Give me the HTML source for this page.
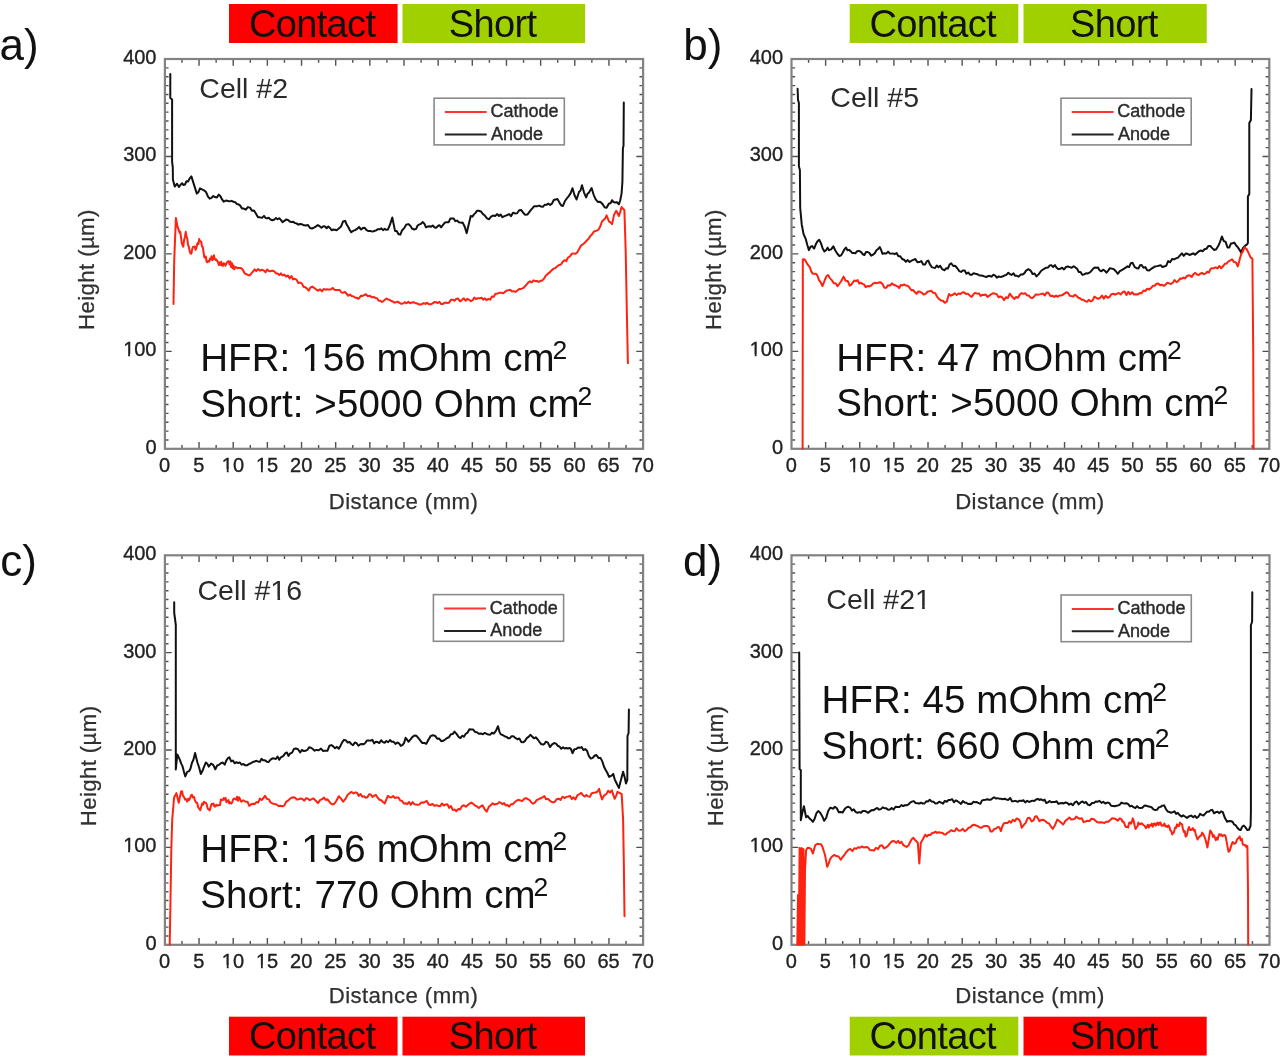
<!DOCTYPE html><html><head><meta charset="utf-8"><title>Cell profiles</title><style>
html,body{margin:0;padding:0;background:#fff;width:1280px;height:1061px;overflow:hidden}
svg{display:block;font-family:"Liberation Sans",sans-serif;filter:blur(0.45px)}
.tl{font-size:20px;fill:#222;stroke:#222;stroke-width:0.35px}
.at{font-size:22.2px;fill:#303030;stroke:#303030;stroke-width:0.25px;letter-spacing:0.4px}
.hf{font-size:38.5px;fill:#111;letter-spacing:0.1px}
.br{font-size:38px;fill:#111;letter-spacing:-0.65px}
.lg{font-size:18px;fill:#2a2a2a;stroke:#2a2a2a;stroke-width:0.4px}
.cl{font-size:28.5px;fill:#2a2a2a}
.pl{font-size:44px;fill:#111}
</style></head><body>
<svg width="1280" height="1061" viewBox="0 0 1280 1061">
<rect width="1280" height="1061" fill="#fff"/>
<rect x="229" y="4" width="168.6" height="39" fill="#ff0000"/>
<text x="312.1" y="37.3" text-anchor="middle" class="br">Contact</text>
<rect x="402.5" y="4" width="182.6" height="39" fill="#a0d000"/>
<text x="492.6" y="37.3" text-anchor="middle" class="br">Short</text>
<rect x="849.7" y="4" width="168.6" height="39" fill="#a0d000"/>
<text x="932.8" y="37.3" text-anchor="middle" class="br">Contact</text>
<rect x="1023.5" y="4" width="183.2" height="39" fill="#a0d000"/>
<text x="1113.9" y="37.3" text-anchor="middle" class="br">Short</text>
<rect x="229" y="1016.7" width="168.6" height="38.8" fill="#ff0000"/>
<text x="312.1" y="1049.2" text-anchor="middle" class="br">Contact</text>
<rect x="402.5" y="1016.7" width="182.6" height="38.8" fill="#ff0000"/>
<text x="492.6" y="1049.2" text-anchor="middle" class="br">Short</text>
<rect x="849.7" y="1016.7" width="168.6" height="38.8" fill="#a0d000"/>
<text x="932.8" y="1049.2" text-anchor="middle" class="br">Contact</text>
<rect x="1023.5" y="1016.7" width="183.2" height="38.8" fill="#ff0000"/>
<text x="1113.9" y="1049.2" text-anchor="middle" class="br">Short</text>
<text x="-0.5" y="60" class="pl">a)</text>
<text x="683.3" y="60" class="pl">b)</text>
<text x="0.3" y="576.2" class="pl">c)</text>
<text x="683" y="576" class="pl">d)</text>
<path d="M181.98 448.8v-3.8M181.98 59v3.8M199.06 448.8v-6.8M199.06 59v6.8M216.14 448.8v-3.8M216.14 59v3.8M233.21 448.8v-6.8M233.21 59v6.8M250.29 448.8v-3.8M250.29 59v3.8M267.37 448.8v-6.8M267.37 59v6.8M284.45 448.8v-3.8M284.45 59v3.8M301.53 448.8v-6.8M301.53 59v6.8M318.61 448.8v-3.8M318.61 59v3.8M335.69 448.8v-6.8M335.69 59v6.8M352.76 448.8v-3.8M352.76 59v3.8M369.84 448.8v-6.8M369.84 59v6.8M386.92 448.8v-3.8M386.92 59v3.8M404 448.8v-6.8M404 59v6.8M421.08 448.8v-3.8M421.08 59v3.8M438.16 448.8v-6.8M438.16 59v6.8M455.24 448.8v-3.8M455.24 59v3.8M472.31 448.8v-6.8M472.31 59v6.8M489.39 448.8v-3.8M489.39 59v3.8M506.47 448.8v-6.8M506.47 59v6.8M523.55 448.8v-3.8M523.55 59v3.8M540.63 448.8v-6.8M540.63 59v6.8M557.71 448.8v-3.8M557.71 59v3.8M574.79 448.8v-6.8M574.79 59v6.8M591.86 448.8v-3.8M591.86 59v3.8M608.94 448.8v-6.8M608.94 59v6.8M626.02 448.8v-3.8M626.02 59v3.8M164.9 439.94h3.6M643.1 439.94h-3.6M164.9 431.08h3.6M643.1 431.08h-3.6M164.9 422.22h3.6M643.1 422.22h-3.6M164.9 413.36h3.6M643.1 413.36h-3.6M164.9 404.5h3.6M643.1 404.5h-3.6M164.9 395.65h3.6M643.1 395.65h-3.6M164.9 386.79h3.6M643.1 386.79h-3.6M164.9 377.93h3.6M643.1 377.93h-3.6M164.9 369.07h3.6M643.1 369.07h-3.6M164.9 360.21h3.6M643.1 360.21h-3.6M164.9 351.35h6.8M643.1 351.35h-6.8M164.9 342.49h3.6M643.1 342.49h-3.6M164.9 333.63h3.6M643.1 333.63h-3.6M164.9 324.77h3.6M643.1 324.77h-3.6M164.9 315.91h3.6M643.1 315.91h-3.6M164.9 307.05h3.6M643.1 307.05h-3.6M164.9 298.2h3.6M643.1 298.2h-3.6M164.9 289.34h3.6M643.1 289.34h-3.6M164.9 280.48h3.6M643.1 280.48h-3.6M164.9 271.62h3.6M643.1 271.62h-3.6M164.9 262.76h3.6M643.1 262.76h-3.6M164.9 253.9h6.8M643.1 253.9h-6.8M164.9 245.04h3.6M643.1 245.04h-3.6M164.9 236.18h3.6M643.1 236.18h-3.6M164.9 227.32h3.6M643.1 227.32h-3.6M164.9 218.46h3.6M643.1 218.46h-3.6M164.9 209.6h3.6M643.1 209.6h-3.6M164.9 200.75h3.6M643.1 200.75h-3.6M164.9 191.89h3.6M643.1 191.89h-3.6M164.9 183.03h3.6M643.1 183.03h-3.6M164.9 174.17h3.6M643.1 174.17h-3.6M164.9 165.31h3.6M643.1 165.31h-3.6M164.9 156.45h6.8M643.1 156.45h-6.8M164.9 147.59h3.6M643.1 147.59h-3.6M164.9 138.73h3.6M643.1 138.73h-3.6M164.9 129.87h3.6M643.1 129.87h-3.6M164.9 121.01h3.6M643.1 121.01h-3.6M164.9 112.15h3.6M643.1 112.15h-3.6M164.9 103.3h3.6M643.1 103.3h-3.6M164.9 94.44h3.6M643.1 94.44h-3.6M164.9 85.58h3.6M643.1 85.58h-3.6M164.9 76.72h3.6M643.1 76.72h-3.6M164.9 67.86h3.6M643.1 67.86h-3.6" stroke="#505050" stroke-width="1.4" fill="none"/>
<rect x="164.9" y="59" width="478.2" height="389.8" fill="none" stroke="#828282" stroke-width="2.2"/>
<text x="156.5" y="453.8" text-anchor="end" class="tl">0</text>
<text x="156.5" y="356.35" text-anchor="end" class="tl">100</text>
<text x="156.5" y="258.9" text-anchor="end" class="tl">200</text>
<text x="156.5" y="161.45" text-anchor="end" class="tl">300</text>
<text x="156.5" y="64" text-anchor="end" class="tl">400</text>
<text x="164.6" y="471.6" text-anchor="middle" class="tl">0</text>
<text x="198.76" y="471.6" text-anchor="middle" class="tl">5</text>
<text x="232.91" y="471.6" text-anchor="middle" class="tl">10</text>
<text x="267.07" y="471.6" text-anchor="middle" class="tl">15</text>
<text x="301.23" y="471.6" text-anchor="middle" class="tl">20</text>
<text x="335.39" y="471.6" text-anchor="middle" class="tl">25</text>
<text x="369.54" y="471.6" text-anchor="middle" class="tl">30</text>
<text x="403.7" y="471.6" text-anchor="middle" class="tl">35</text>
<text x="437.86" y="471.6" text-anchor="middle" class="tl">40</text>
<text x="472.01" y="471.6" text-anchor="middle" class="tl">45</text>
<text x="506.17" y="471.6" text-anchor="middle" class="tl">50</text>
<text x="540.33" y="471.6" text-anchor="middle" class="tl">55</text>
<text x="574.49" y="471.6" text-anchor="middle" class="tl">60</text>
<text x="608.64" y="471.6" text-anchor="middle" class="tl">65</text>
<text x="642.8" y="471.6" text-anchor="middle" class="tl">70</text>
<text x="403.5" y="508.6" text-anchor="middle" class="at">Distance (mm)</text>
<text transform="translate(93.5 269.6) rotate(-90)" text-anchor="middle" class="at">Height (µm)</text>
<path d="M808.56 448.8v-3.8M808.56 59v3.8M825.63 448.8v-6.8M825.63 59v6.8M842.69 448.8v-3.8M842.69 59v3.8M859.76 448.8v-6.8M859.76 59v6.8M876.82 448.8v-3.8M876.82 59v3.8M893.89 448.8v-6.8M893.89 59v6.8M910.95 448.8v-3.8M910.95 59v3.8M928.01 448.8v-6.8M928.01 59v6.8M945.08 448.8v-3.8M945.08 59v3.8M962.14 448.8v-6.8M962.14 59v6.8M979.21 448.8v-3.8M979.21 59v3.8M996.27 448.8v-6.8M996.27 59v6.8M1013.34 448.8v-3.8M1013.34 59v3.8M1030.4 448.8v-6.8M1030.4 59v6.8M1047.46 448.8v-3.8M1047.46 59v3.8M1064.53 448.8v-6.8M1064.53 59v6.8M1081.59 448.8v-3.8M1081.59 59v3.8M1098.66 448.8v-6.8M1098.66 59v6.8M1115.72 448.8v-3.8M1115.72 59v3.8M1132.79 448.8v-6.8M1132.79 59v6.8M1149.85 448.8v-3.8M1149.85 59v3.8M1166.91 448.8v-6.8M1166.91 59v6.8M1183.98 448.8v-3.8M1183.98 59v3.8M1201.04 448.8v-6.8M1201.04 59v6.8M1218.11 448.8v-3.8M1218.11 59v3.8M1235.17 448.8v-6.8M1235.17 59v6.8M1252.24 448.8v-3.8M1252.24 59v3.8M791.5 439.94h3.6M1269.3 439.94h-3.6M791.5 431.08h3.6M1269.3 431.08h-3.6M791.5 422.22h3.6M1269.3 422.22h-3.6M791.5 413.36h3.6M1269.3 413.36h-3.6M791.5 404.5h3.6M1269.3 404.5h-3.6M791.5 395.65h3.6M1269.3 395.65h-3.6M791.5 386.79h3.6M1269.3 386.79h-3.6M791.5 377.93h3.6M1269.3 377.93h-3.6M791.5 369.07h3.6M1269.3 369.07h-3.6M791.5 360.21h3.6M1269.3 360.21h-3.6M791.5 351.35h6.8M1269.3 351.35h-6.8M791.5 342.49h3.6M1269.3 342.49h-3.6M791.5 333.63h3.6M1269.3 333.63h-3.6M791.5 324.77h3.6M1269.3 324.77h-3.6M791.5 315.91h3.6M1269.3 315.91h-3.6M791.5 307.05h3.6M1269.3 307.05h-3.6M791.5 298.2h3.6M1269.3 298.2h-3.6M791.5 289.34h3.6M1269.3 289.34h-3.6M791.5 280.48h3.6M1269.3 280.48h-3.6M791.5 271.62h3.6M1269.3 271.62h-3.6M791.5 262.76h3.6M1269.3 262.76h-3.6M791.5 253.9h6.8M1269.3 253.9h-6.8M791.5 245.04h3.6M1269.3 245.04h-3.6M791.5 236.18h3.6M1269.3 236.18h-3.6M791.5 227.32h3.6M1269.3 227.32h-3.6M791.5 218.46h3.6M1269.3 218.46h-3.6M791.5 209.6h3.6M1269.3 209.6h-3.6M791.5 200.75h3.6M1269.3 200.75h-3.6M791.5 191.89h3.6M1269.3 191.89h-3.6M791.5 183.03h3.6M1269.3 183.03h-3.6M791.5 174.17h3.6M1269.3 174.17h-3.6M791.5 165.31h3.6M1269.3 165.31h-3.6M791.5 156.45h6.8M1269.3 156.45h-6.8M791.5 147.59h3.6M1269.3 147.59h-3.6M791.5 138.73h3.6M1269.3 138.73h-3.6M791.5 129.87h3.6M1269.3 129.87h-3.6M791.5 121.01h3.6M1269.3 121.01h-3.6M791.5 112.15h3.6M1269.3 112.15h-3.6M791.5 103.3h3.6M1269.3 103.3h-3.6M791.5 94.44h3.6M1269.3 94.44h-3.6M791.5 85.58h3.6M1269.3 85.58h-3.6M791.5 76.72h3.6M1269.3 76.72h-3.6M791.5 67.86h3.6M1269.3 67.86h-3.6" stroke="#505050" stroke-width="1.4" fill="none"/>
<rect x="791.5" y="59" width="477.8" height="389.8" fill="none" stroke="#828282" stroke-width="2.2"/>
<text x="783.1" y="453.8" text-anchor="end" class="tl">0</text>
<text x="783.1" y="356.35" text-anchor="end" class="tl">100</text>
<text x="783.1" y="258.9" text-anchor="end" class="tl">200</text>
<text x="783.1" y="161.45" text-anchor="end" class="tl">300</text>
<text x="783.1" y="64" text-anchor="end" class="tl">400</text>
<text x="791.2" y="471.6" text-anchor="middle" class="tl">0</text>
<text x="825.33" y="471.6" text-anchor="middle" class="tl">5</text>
<text x="859.46" y="471.6" text-anchor="middle" class="tl">10</text>
<text x="893.59" y="471.6" text-anchor="middle" class="tl">15</text>
<text x="927.71" y="471.6" text-anchor="middle" class="tl">20</text>
<text x="961.84" y="471.6" text-anchor="middle" class="tl">25</text>
<text x="995.97" y="471.6" text-anchor="middle" class="tl">30</text>
<text x="1030.1" y="471.6" text-anchor="middle" class="tl">35</text>
<text x="1064.23" y="471.6" text-anchor="middle" class="tl">40</text>
<text x="1098.36" y="471.6" text-anchor="middle" class="tl">45</text>
<text x="1132.49" y="471.6" text-anchor="middle" class="tl">50</text>
<text x="1166.61" y="471.6" text-anchor="middle" class="tl">55</text>
<text x="1200.74" y="471.6" text-anchor="middle" class="tl">60</text>
<text x="1234.87" y="471.6" text-anchor="middle" class="tl">65</text>
<text x="1269" y="471.6" text-anchor="middle" class="tl">70</text>
<text x="1029.9" y="508.6" text-anchor="middle" class="at">Distance (mm)</text>
<text transform="translate(720.9 269.6) rotate(-90)" text-anchor="middle" class="at">Height (µm)</text>
<path d="M181.98 944.8v-3.8M181.98 555.3v3.8M199.06 944.8v-6.8M199.06 555.3v6.8M216.14 944.8v-3.8M216.14 555.3v3.8M233.21 944.8v-6.8M233.21 555.3v6.8M250.29 944.8v-3.8M250.29 555.3v3.8M267.37 944.8v-6.8M267.37 555.3v6.8M284.45 944.8v-3.8M284.45 555.3v3.8M301.53 944.8v-6.8M301.53 555.3v6.8M318.61 944.8v-3.8M318.61 555.3v3.8M335.69 944.8v-6.8M335.69 555.3v6.8M352.76 944.8v-3.8M352.76 555.3v3.8M369.84 944.8v-6.8M369.84 555.3v6.8M386.92 944.8v-3.8M386.92 555.3v3.8M404 944.8v-6.8M404 555.3v6.8M421.08 944.8v-3.8M421.08 555.3v3.8M438.16 944.8v-6.8M438.16 555.3v6.8M455.24 944.8v-3.8M455.24 555.3v3.8M472.31 944.8v-6.8M472.31 555.3v6.8M489.39 944.8v-3.8M489.39 555.3v3.8M506.47 944.8v-6.8M506.47 555.3v6.8M523.55 944.8v-3.8M523.55 555.3v3.8M540.63 944.8v-6.8M540.63 555.3v6.8M557.71 944.8v-3.8M557.71 555.3v3.8M574.79 944.8v-6.8M574.79 555.3v6.8M591.86 944.8v-3.8M591.86 555.3v3.8M608.94 944.8v-6.8M608.94 555.3v6.8M626.02 944.8v-3.8M626.02 555.3v3.8M164.9 935.95h3.6M643.1 935.95h-3.6M164.9 927.1h3.6M643.1 927.1h-3.6M164.9 918.24h3.6M643.1 918.24h-3.6M164.9 909.39h3.6M643.1 909.39h-3.6M164.9 900.54h3.6M643.1 900.54h-3.6M164.9 891.69h3.6M643.1 891.69h-3.6M164.9 882.83h3.6M643.1 882.83h-3.6M164.9 873.98h3.6M643.1 873.98h-3.6M164.9 865.13h3.6M643.1 865.13h-3.6M164.9 856.28h3.6M643.1 856.28h-3.6M164.9 847.42h6.8M643.1 847.42h-6.8M164.9 838.57h3.6M643.1 838.57h-3.6M164.9 829.72h3.6M643.1 829.72h-3.6M164.9 820.87h3.6M643.1 820.87h-3.6M164.9 812.02h3.6M643.1 812.02h-3.6M164.9 803.16h3.6M643.1 803.16h-3.6M164.9 794.31h3.6M643.1 794.31h-3.6M164.9 785.46h3.6M643.1 785.46h-3.6M164.9 776.61h3.6M643.1 776.61h-3.6M164.9 767.75h3.6M643.1 767.75h-3.6M164.9 758.9h3.6M643.1 758.9h-3.6M164.9 750.05h6.8M643.1 750.05h-6.8M164.9 741.2h3.6M643.1 741.2h-3.6M164.9 732.35h3.6M643.1 732.35h-3.6M164.9 723.49h3.6M643.1 723.49h-3.6M164.9 714.64h3.6M643.1 714.64h-3.6M164.9 705.79h3.6M643.1 705.79h-3.6M164.9 696.94h3.6M643.1 696.94h-3.6M164.9 688.08h3.6M643.1 688.08h-3.6M164.9 679.23h3.6M643.1 679.23h-3.6M164.9 670.38h3.6M643.1 670.38h-3.6M164.9 661.53h3.6M643.1 661.53h-3.6M164.9 652.67h6.8M643.1 652.67h-6.8M164.9 643.82h3.6M643.1 643.82h-3.6M164.9 634.97h3.6M643.1 634.97h-3.6M164.9 626.12h3.6M643.1 626.12h-3.6M164.9 617.27h3.6M643.1 617.27h-3.6M164.9 608.41h3.6M643.1 608.41h-3.6M164.9 599.56h3.6M643.1 599.56h-3.6M164.9 590.71h3.6M643.1 590.71h-3.6M164.9 581.86h3.6M643.1 581.86h-3.6M164.9 573h3.6M643.1 573h-3.6M164.9 564.15h3.6M643.1 564.15h-3.6" stroke="#505050" stroke-width="1.4" fill="none"/>
<rect x="164.9" y="555.3" width="478.2" height="389.5" fill="none" stroke="#828282" stroke-width="2.2"/>
<text x="156.5" y="949.8" text-anchor="end" class="tl">0</text>
<text x="156.5" y="852.42" text-anchor="end" class="tl">100</text>
<text x="156.5" y="755.05" text-anchor="end" class="tl">200</text>
<text x="156.5" y="657.67" text-anchor="end" class="tl">300</text>
<text x="156.5" y="560.3" text-anchor="end" class="tl">400</text>
<text x="164.6" y="967.6" text-anchor="middle" class="tl">0</text>
<text x="198.76" y="967.6" text-anchor="middle" class="tl">5</text>
<text x="232.91" y="967.6" text-anchor="middle" class="tl">10</text>
<text x="267.07" y="967.6" text-anchor="middle" class="tl">15</text>
<text x="301.23" y="967.6" text-anchor="middle" class="tl">20</text>
<text x="335.39" y="967.6" text-anchor="middle" class="tl">25</text>
<text x="369.54" y="967.6" text-anchor="middle" class="tl">30</text>
<text x="403.7" y="967.6" text-anchor="middle" class="tl">35</text>
<text x="437.86" y="967.6" text-anchor="middle" class="tl">40</text>
<text x="472.01" y="967.6" text-anchor="middle" class="tl">45</text>
<text x="506.17" y="967.6" text-anchor="middle" class="tl">50</text>
<text x="540.33" y="967.6" text-anchor="middle" class="tl">55</text>
<text x="574.49" y="967.6" text-anchor="middle" class="tl">60</text>
<text x="608.64" y="967.6" text-anchor="middle" class="tl">65</text>
<text x="642.8" y="967.6" text-anchor="middle" class="tl">70</text>
<text x="403.5" y="1003.3" text-anchor="middle" class="at">Distance (mm)</text>
<text transform="translate(95.9 765.9) rotate(-90)" text-anchor="middle" class="at">Height (µm)</text>
<path d="M808.57 944.8v-3.8M808.57 555.3v3.8M825.64 944.8v-6.8M825.64 555.3v6.8M842.71 944.8v-3.8M842.71 555.3v3.8M859.79 944.8v-6.8M859.79 555.3v6.8M876.86 944.8v-3.8M876.86 555.3v3.8M893.93 944.8v-6.8M893.93 555.3v6.8M911 944.8v-3.8M911 555.3v3.8M928.07 944.8v-6.8M928.07 555.3v6.8M945.14 944.8v-3.8M945.14 555.3v3.8M962.21 944.8v-6.8M962.21 555.3v6.8M979.29 944.8v-3.8M979.29 555.3v3.8M996.36 944.8v-6.8M996.36 555.3v6.8M1013.43 944.8v-3.8M1013.43 555.3v3.8M1030.5 944.8v-6.8M1030.5 555.3v6.8M1047.57 944.8v-3.8M1047.57 555.3v3.8M1064.64 944.8v-6.8M1064.64 555.3v6.8M1081.71 944.8v-3.8M1081.71 555.3v3.8M1098.79 944.8v-6.8M1098.79 555.3v6.8M1115.86 944.8v-3.8M1115.86 555.3v3.8M1132.93 944.8v-6.8M1132.93 555.3v6.8M1150 944.8v-3.8M1150 555.3v3.8M1167.07 944.8v-6.8M1167.07 555.3v6.8M1184.14 944.8v-3.8M1184.14 555.3v3.8M1201.21 944.8v-6.8M1201.21 555.3v6.8M1218.29 944.8v-3.8M1218.29 555.3v3.8M1235.36 944.8v-6.8M1235.36 555.3v6.8M1252.43 944.8v-3.8M1252.43 555.3v3.8M791.5 935.95h3.6M1269.5 935.95h-3.6M791.5 927.1h3.6M1269.5 927.1h-3.6M791.5 918.24h3.6M1269.5 918.24h-3.6M791.5 909.39h3.6M1269.5 909.39h-3.6M791.5 900.54h3.6M1269.5 900.54h-3.6M791.5 891.69h3.6M1269.5 891.69h-3.6M791.5 882.83h3.6M1269.5 882.83h-3.6M791.5 873.98h3.6M1269.5 873.98h-3.6M791.5 865.13h3.6M1269.5 865.13h-3.6M791.5 856.28h3.6M1269.5 856.28h-3.6M791.5 847.42h6.8M1269.5 847.42h-6.8M791.5 838.57h3.6M1269.5 838.57h-3.6M791.5 829.72h3.6M1269.5 829.72h-3.6M791.5 820.87h3.6M1269.5 820.87h-3.6M791.5 812.02h3.6M1269.5 812.02h-3.6M791.5 803.16h3.6M1269.5 803.16h-3.6M791.5 794.31h3.6M1269.5 794.31h-3.6M791.5 785.46h3.6M1269.5 785.46h-3.6M791.5 776.61h3.6M1269.5 776.61h-3.6M791.5 767.75h3.6M1269.5 767.75h-3.6M791.5 758.9h3.6M1269.5 758.9h-3.6M791.5 750.05h6.8M1269.5 750.05h-6.8M791.5 741.2h3.6M1269.5 741.2h-3.6M791.5 732.35h3.6M1269.5 732.35h-3.6M791.5 723.49h3.6M1269.5 723.49h-3.6M791.5 714.64h3.6M1269.5 714.64h-3.6M791.5 705.79h3.6M1269.5 705.79h-3.6M791.5 696.94h3.6M1269.5 696.94h-3.6M791.5 688.08h3.6M1269.5 688.08h-3.6M791.5 679.23h3.6M1269.5 679.23h-3.6M791.5 670.38h3.6M1269.5 670.38h-3.6M791.5 661.53h3.6M1269.5 661.53h-3.6M791.5 652.67h6.8M1269.5 652.67h-6.8M791.5 643.82h3.6M1269.5 643.82h-3.6M791.5 634.97h3.6M1269.5 634.97h-3.6M791.5 626.12h3.6M1269.5 626.12h-3.6M791.5 617.27h3.6M1269.5 617.27h-3.6M791.5 608.41h3.6M1269.5 608.41h-3.6M791.5 599.56h3.6M1269.5 599.56h-3.6M791.5 590.71h3.6M1269.5 590.71h-3.6M791.5 581.86h3.6M1269.5 581.86h-3.6M791.5 573h3.6M1269.5 573h-3.6M791.5 564.15h3.6M1269.5 564.15h-3.6" stroke="#505050" stroke-width="1.4" fill="none"/>
<rect x="791.5" y="555.3" width="478" height="389.5" fill="none" stroke="#828282" stroke-width="2.2"/>
<text x="783.1" y="949.8" text-anchor="end" class="tl">0</text>
<text x="783.1" y="852.42" text-anchor="end" class="tl">100</text>
<text x="783.1" y="755.05" text-anchor="end" class="tl">200</text>
<text x="783.1" y="657.67" text-anchor="end" class="tl">300</text>
<text x="783.1" y="560.3" text-anchor="end" class="tl">400</text>
<text x="791.2" y="967.6" text-anchor="middle" class="tl">0</text>
<text x="825.34" y="967.6" text-anchor="middle" class="tl">5</text>
<text x="859.49" y="967.6" text-anchor="middle" class="tl">10</text>
<text x="893.63" y="967.6" text-anchor="middle" class="tl">15</text>
<text x="927.77" y="967.6" text-anchor="middle" class="tl">20</text>
<text x="961.91" y="967.6" text-anchor="middle" class="tl">25</text>
<text x="996.06" y="967.6" text-anchor="middle" class="tl">30</text>
<text x="1030.2" y="967.6" text-anchor="middle" class="tl">35</text>
<text x="1064.34" y="967.6" text-anchor="middle" class="tl">40</text>
<text x="1098.49" y="967.6" text-anchor="middle" class="tl">45</text>
<text x="1132.63" y="967.6" text-anchor="middle" class="tl">50</text>
<text x="1166.77" y="967.6" text-anchor="middle" class="tl">55</text>
<text x="1200.91" y="967.6" text-anchor="middle" class="tl">60</text>
<text x="1235.06" y="967.6" text-anchor="middle" class="tl">65</text>
<text x="1269.2" y="967.6" text-anchor="middle" class="tl">70</text>
<text x="1030" y="1003.3" text-anchor="middle" class="at">Distance (mm)</text>
<text transform="translate(722.9 765.9) rotate(-90)" text-anchor="middle" class="at">Height (µm)</text>
<text x="199.3" y="98" class="cl">Cell #2</text>
<text x="830.3" y="107.3" class="cl">Cell #5</text>
<text x="197.5" y="600" class="cl">Cell #16</text>
<text x="826.3" y="609" class="cl">Cell #21</text>
<rect x="434.1" y="98.2" width="130.2" height="46.7" fill="#fff" stroke="#8a8a8a" stroke-width="1.6"/>
<path d="M444.8 112.1H486.7" stroke="#f33" stroke-width="2"/>
<path d="M444.8 134.5H486.7" stroke="#222" stroke-width="2"/>
<text x="490.4" y="117.2" class="lg">Cathode</text>
<text x="491" y="139.8" class="lg">Anode</text>
<rect x="1061" y="98.2" width="130.2" height="46.7" fill="#fff" stroke="#8a8a8a" stroke-width="1.6"/>
<path d="M1071.7 112.1H1113.6" stroke="#f33" stroke-width="2"/>
<path d="M1071.7 134.5H1113.6" stroke="#222" stroke-width="2"/>
<text x="1117.3" y="117.2" class="lg">Cathode</text>
<text x="1117.9" y="139.8" class="lg">Anode</text>
<rect x="433.4" y="594.6" width="130.2" height="46.7" fill="#fff" stroke="#8a8a8a" stroke-width="1.6"/>
<path d="M444.1 608.5H486" stroke="#f33" stroke-width="2"/>
<path d="M444.1 630.9H486" stroke="#222" stroke-width="2"/>
<text x="489.7" y="613.6" class="lg">Cathode</text>
<text x="490.3" y="636.2" class="lg">Anode</text>
<rect x="1061.1" y="595" width="130.2" height="46.7" fill="#fff" stroke="#8a8a8a" stroke-width="1.6"/>
<path d="M1071.8 608.9H1113.7" stroke="#f33" stroke-width="2"/>
<path d="M1071.8 631.3H1113.7" stroke="#222" stroke-width="2"/>
<text x="1117.4" y="614" class="lg">Cathode</text>
<text x="1118" y="636.6" class="lg">Anode</text>
<text x="200.2" y="371" class="hf">HFR: 156 mOhm cm<tspan font-size="26.5" dx="-2.3" dy="-12">2</tspan></text>
<text x="200.2" y="417" class="hf">Short: &gt;5000 Ohm cm<tspan font-size="26.5" dx="-2.3" dy="-12">2</tspan></text>
<text x="836.2" y="370.5" class="hf">HFR: 47 mOhm cm<tspan font-size="26.5" dx="-2.3" dy="-12">2</tspan></text>
<text x="836.2" y="416.2" class="hf">Short: &gt;5000 Ohm cm<tspan font-size="26.5" dx="-2.3" dy="-12">2</tspan></text>
<text x="200.3" y="862.4" class="hf">HFR: 156 mOhm cm<tspan font-size="26.5" dx="-2.3" dy="-12">2</tspan></text>
<text x="200.3" y="908" class="hf">Short: 770 Ohm cm<tspan font-size="26.5" dx="-2.3" dy="-12">2</tspan></text>
<text x="821.5" y="712.9" class="hf">HFR: 45 mOhm cm<tspan font-size="26.5" dx="-2.3" dy="-12">2</tspan></text>
<text x="821.5" y="758.6" class="hf">Short: 660 Ohm cm<tspan font-size="26.5" dx="-2.3" dy="-12">2</tspan></text>
<polyline points="170.3,74 170.3,98 172.1,99.5 172.1,161.6 172.8,167.54 172.9,179.44 174.7,186.53 177,183.69 179,186.99 180.5,184.82 182,183.19 183.5,185.04 185,184.49 186.5,181.3 188,181.42 189.7,178.46 191.4,176.4 193.2,182.13 195,187.87 196.8,193.6 198.4,192.24 200,188.37 202,189.3 204,190.28 206,192.02 208,196.56 209.75,198.7 211.5,197.91 213.25,196.04 215,197.05 216.9,197.48 218.8,194.65 220.43,196.25 222.07,199.45 223.7,201.61 225.85,200.6 228,200.92 229.83,201.38 231.67,200.84 233.5,201.86 235.12,202.14 236.75,203.95 238.38,204.29 240,205.4 241.93,208.38 243.87,208.54 245.8,209.68 247.9,207.12 250,207.62 252,210.77 254,210.59 256,213.82 258,217.18 260,217.36 262,217.87 264,215.9 265.57,218.01 267.15,218.26 268.73,217.77 270.3,219.41 272.2,220.24 274.1,219.68 276,218.01 277.62,219.27 279.25,218.22 280.88,219.92 282.5,222.17 284.33,220.89 286.17,219.42 288,220.06 289.7,221.48 291.4,222.13 293.1,221.8 294.8,222.92 296.53,223.36 298.27,224.67 300,224.03 302,224.28 304,225.3 306,225.41 308,224.99 310,228 312,228.51 314,227.54 316,226.37 317.82,225.14 319.65,226.16 321.48,227.71 323.3,226.14 324.98,226.49 326.65,228.2 328.32,226.49 330,228.02 331.65,230.25 333.3,229.53 334.95,229.73 336.6,230.21 338.8,228.42 341,226.58 343.1,221.47 345.2,220.86 346.6,224.4 348,226.49 349.6,229.77 351.2,232.19 353.13,230.93 355.07,230.15 357,228.91 359.03,227 361.07,229.53 363.1,227.89 364.73,227.79 366.37,229.95 368,230.98 370.2,230.88 372.4,231.61 374.27,231.01 376.13,230.38 378,229.14 379.67,229.35 381.33,228.3 383,230.16 384.67,228.84 386.33,229.8 388,229.45 390.15,224.17 392.3,217.57 395,230.9 396.77,230.92 398.53,234.33 400.3,234.62 402.15,230.2 404,228.39 406.15,224.65 408.3,224.12 410.15,225.5 412,228.51 414.1,229.5 416.2,228.9 417.6,225.5 419,224.57 420.95,223.85 422.9,222.08 424.45,223.93 426,227.27 427.75,226.59 429.5,226.28 431.12,226.78 432.75,225.54 434.38,227.22 436,227.9 437.7,226.18 439.4,225.19 441.1,227.34 442.8,225.21 444.9,222.55 447,222.13 448.7,222.21 450.4,218.41 452.1,218.59 453.73,218.53 455.37,221.19 457,220.57 458.9,222.24 460.8,222.64 462.7,222.56 464.7,226.79 466.7,233.1 468.7,224.5 470.7,215.9 472.35,216.66 474,214.38 475.57,212.89 477.13,210.67 478.7,210.69 480.9,211.47 482.95,214.07 485,215.77 487.05,218.37 489.1,219.24 491.05,216.67 493,215.59 495.15,216 497.3,214.06 498.98,216.02 500.65,214.47 502.32,217.16 504,216.31 505.75,215.62 507.5,214.96 509.25,214.01 511,216.18 513,212.69 515,213.4 517.1,213.26 519.2,210.29 521.1,209.92 523,212.46 525.2,214.86 527.4,214.56 529.2,212.18 531,209.85 532.53,208.15 534.07,206.34 535.6,206.32 537.4,206.16 539.2,205.6 541,206.5 542.83,206.86 544.67,204.8 546.5,204.8 548.33,203.57 550.17,204.94 552,203.5 553.8,200.03 555.6,199.46 557.4,199.08 560,203.61 561.45,205.57 562.9,205.9 564.95,201.02 567,198.22 568.83,196.02 570.67,193.16 572.5,188.2 574.55,195.23 576.6,199.54 579,191.98 580.5,190.55 582,185.27 584.05,192.56 586.1,197.38 587.55,193.76 589,192.52 591.6,188.04 593.65,194.78 595.7,199.43 597.85,201.88 600,201.83 601.5,202.93 603,204.74 604.8,207.57 606.6,207.63 609,203.57 610.55,203.24 612.1,200.24 613.55,202.03 615,202.5 616.95,202.24 618.9,204.26 620.25,200.22 621.6,193.36 622.4,182 622.9,148 623.5,146 623.8,102.5" fill="none" stroke="#111" stroke-width="2.0" stroke-linejoin="round" stroke-linecap="round"/>
<polyline points="173.5,303.9 174.2,261 175.9,218 177.5,226.57 179.6,232.67 180.3,231.78 181,237.01 181.77,243.05 182.53,245.14 183.3,246.7 184.1,240.1 184.9,237.22 185.7,231.85 186.47,236.62 187.23,238.21 188,244.83 188.87,246.74 189.73,251.45 190.6,253.58 191.4,253.66 192.2,249.1 193,246.87 193.83,246.76 194.67,246.51 195.5,249.88 196.24,248.34 196.98,244.93 197.72,242.92 198.46,243.98 199.2,238.96 199.9,241.34 200.6,241.16 201.3,241.74 202,246.58 202.77,246.86 203.53,251.74 204.3,257.39 205.07,257.52 205.83,256.5 206.6,261.94 207.45,262.27 208.3,261.09 209.15,261.51 210,258.63 210.78,259.57 211.56,256.21 212.34,260.07 213.12,259.54 213.9,255.19 214.72,258.93 215.54,259.86 216.36,259.34 217.18,261.01 218,261.98 218.81,265.09 219.63,262.41 220.44,264.85 221.26,261.81 222.07,265.6 222.89,265.92 223.7,263.31 224.56,263.58 225.42,265.7 226.28,264.08 227.14,262.19 228,261.34 228.79,261.36 229.57,264.47 230.36,261.4 231.14,267 231.93,263.21 232.71,268.14 233.5,265.45 234.25,269.36 235,268 235.75,266.98 236.5,267.36 237.25,268.2 238,268.11 239.67,267.99 241.33,268.28 243,270.01 244.73,273.46 246.47,274.24 248.2,275.16 249.8,275.29 251.4,273.38 253,271.51 254.67,269.42 256.33,270.95 258,269.04 260,270.62 262,269.72 264,270.66 265.57,272.3 267.15,269.48 268.73,270.93 270.3,271.25 272.2,270.61 274.1,271.22 276,273.48 277.62,273.4 279.25,275.13 280.88,273.34 282.5,275.53 284.33,274.62 286.17,276.52 288,275.47 289.7,278.49 291.4,275.99 293.1,279.38 294.8,278.8 296.53,279.72 298.27,282.93 300,282.57 301.75,283.41 303.5,286.79 305.25,287.24 307,288.62 308.75,290.66 310.5,287.35 312.25,286.63 314,287.8 316,289.31 318,290.67 320,289.31 322,291.39 323.67,289.04 325.33,289.68 327,289.34 328.87,289.4 330.73,289.51 332.6,287.92 334.4,289.7 336.2,289.94 338,289.97 339.73,289.98 341.47,292.51 343.2,292.67 344.9,291.99 346.6,293.76 348.3,295.82 350,294.53 351.62,296.11 353.25,296.21 354.88,297.45 356.5,297.75 358.75,298.76 361,295.7 362.6,296.02 364.2,294.98 365.8,294.29 367.87,296.14 369.93,295.67 372,297.44 373.68,296.88 375.36,297.9 377.04,298.23 378.72,300.73 380.4,300.81 381.93,301.94 383.47,301.16 385,299.62 386.57,298.44 388.13,299.6 389.7,299.89 391.27,300.98 392.85,301.55 394.43,302.63 396,302.26 397.75,301.67 399.5,302.82 401.25,303.74 403,303.58 404.75,302.23 406.5,303.27 408.25,301.9 410,303.28 411.78,302.43 413.56,302.28 415.34,302.93 417.12,303.47 418.9,304.44 420.52,304.51 422.14,303.95 423.76,303.04 425.38,303.87 427,302.64 428.84,304.3 430.68,304.35 432.52,303.34 434.36,302.12 436.2,302.21 437.8,303.09 439.4,301.78 441,303.9 442.93,303.92 444.87,302.52 446.8,302.99 448.9,302.84 451,299.83 452.7,299.7 454.4,300.78 456.1,299.04 458.07,298.51 460.03,301.37 462,299.84 463.85,298.32 465.7,300.77 467.55,298.71 469.4,299.96 471.05,301.13 472.7,300.22 474.35,297.56 476,298.94 478,298.28 480,298.18 481.6,297.7 483.2,299.62 484.8,298.32 486.4,300.13 488.27,298.81 490.13,299.7 492,296.47 493.77,296.78 495.53,293.63 497.3,293.69 499.23,292.81 501.15,292.67 503.07,293.31 505,291.87 506.75,290.39 508.5,290.14 510.25,289.74 512,291.44 513.8,291.13 515.6,291.9 517.4,290.57 519.2,288.9 521.13,288.91 523.07,288.16 525,286.28 526.7,284.43 528.4,282.35 530.1,281.25 531.83,282.3 533.55,280.32 535.27,281.17 537,280.97 538.7,282.01 540.4,280.85 542.1,280.68 543.8,278.92 545.9,275.52 548,273.66 550,272.11 552,270 553.67,268.61 555.33,268.08 557,266.53 558.97,265.01 560.93,264.54 562.9,261.59 564.6,260.22 566.3,261.16 568,257.55 569.93,256.33 571.87,253.71 573.8,253.38 575.53,253.69 577.27,252.39 579,249.19 580.93,245.66 582.87,244.27 584.8,242.66 587,240.22 588.6,238.75 590.2,236.12 592.1,234.19 594,231.51 596.2,230.8 598.4,229.87 600.2,226.57 602,221.49 603.53,219.96 605.07,218.58 606.6,215.39 609,221.5 610.55,222.31 612.1,224.16 614,214.88 616.2,210.82 618.9,216.06 620.25,211.86 621.6,207.05 623,208.64 624.4,210.2 625.7,251.2 626.8,310 627.9,363.2" fill="none" stroke="#f21" stroke-width="2.0" stroke-linejoin="round" stroke-linecap="round"/>
<polyline points="797.6,88.8 798,99.67 798.9,103 798.9,166.5 799.9,170 800.2,208 801.7,224.2 803.5,233.86 805.6,238.54 807.25,244.72 808.9,250.16 810.55,246.79 812.2,246.09 814.1,248.53 815.8,244.27 817.5,241.21 819.2,239.82 820.93,243.16 822.67,248.54 824.4,251.37 826,250.25 827.6,247.66 829,250.17 831.15,249.42 833.3,246.23 835.33,250.54 837.37,253.75 839.4,256.05 841.02,255.4 842.65,252.68 844.27,249.51 845.9,247.51 847.47,250.35 849.03,249.87 850.6,251.18 852.17,252.9 853.73,252.94 855.3,253.33 857.15,251.27 859,250.88 860.9,251.9 862.8,254.25 864.42,254.96 866.05,252.05 867.67,252.09 869.3,252.94 871.2,255.68 873.1,254.62 874.75,253.28 876.4,250.23 878.05,249.1 879.7,247.06 881.1,249.91 882.5,253.81 884.37,253.24 886.23,253.62 888.1,251.63 889.67,253.41 891.23,253.62 892.8,253.42 894.67,254.12 896.55,252.99 898.42,256.2 900.3,256.19 902.17,259.02 904.03,259.78 905.9,261.77 907.77,260.11 909.65,261.99 911.52,260.71 913.4,259.83 915.37,259 917.33,262.31 919.3,262.12 921.27,261.02 923.23,264.58 925.2,264.39 926.7,261.39 928.2,260.54 929.93,264.23 931.67,267.08 933.4,267.63 935.08,268.06 936.75,265.46 938.42,267.34 940.1,265.79 942.3,269.22 944.5,270.31 946.17,268.24 947.85,268.54 949.53,264.59 951.2,263.27 953.23,266.01 955.25,265.81 957.27,268.26 959.3,271.08 961.08,271.9 962.86,270.56 964.64,270.45 966.42,273.72 968.2,272.47 970,274.65 971.8,274.73 973.6,273.16 975.4,273.76 977.2,274.23 978.98,275.16 980.76,275.42 982.54,275.73 984.32,276.39 986.1,276.96 987.88,276.27 989.66,275.83 991.44,276.71 993.22,274.82 995,275.35 996.85,277.7 998.7,276.43 1000.55,276.9 1002.4,276.48 1004.37,275.56 1006.33,274.92 1008.3,272.8 1010.03,274.32 1011.77,274.88 1013.5,273.32 1015.23,275.86 1016.97,275.78 1018.7,276.63 1020.55,274.57 1022.4,274.55 1024.25,273.36 1026.1,270.6 1028.35,269.22 1030.6,270.62 1032.57,274.07 1034.53,273.5 1036.5,276.34 1038.75,274.13 1041,270.97 1042.72,269.73 1044.43,268.56 1046.15,267.78 1047.87,267.61 1049.58,265.56 1051.3,265.15 1053.08,267.02 1054.86,265.08 1056.64,267.77 1058.42,269.11 1060.2,268.76 1062.11,267.67 1064.03,269.44 1065.94,267.07 1067.86,266.56 1069.77,267.12 1071.69,267.74 1073.6,266.2 1075.33,267.43 1077.07,268.83 1078.8,272 1080.53,271.95 1082.27,274.81 1084,274.48 1085.97,273.31 1087.93,273.44 1089.9,272.38 1091.5,270.7 1093.1,268.86 1094.7,267.46 1096.3,267.84 1098,267.44 1099.7,270.4 1101.4,271.27 1103.1,269.66 1104.8,270.75 1106.5,272.69 1108.2,270.56 1109.9,268.19 1111.88,268.64 1113.85,269.27 1115.83,271.25 1117.8,273.77 1119.78,271.18 1121.75,270.05 1123.72,268.9 1125.7,267.7 1127.4,266.35 1129.1,267.06 1130.8,263.19 1132.5,262.68 1134.75,267.15 1137,268.28 1138.53,268.42 1140.07,265.3 1141.6,264.97 1143.47,267.81 1145.33,267.13 1147.2,270.31 1149.17,270.39 1151.15,268.94 1153.12,267.59 1155.1,266.43 1156.92,266.13 1158.74,265.72 1160.56,265.15 1162.38,267.02 1164.2,266.43 1166.17,265.82 1168.15,261.06 1170.12,262.15 1172.1,258.94 1174.07,259.38 1176.05,258.43 1178.03,257.59 1180,255.4 1181.88,253.36 1183.77,255.82 1185.65,253.57 1187.53,253.85 1189.42,254.97 1191.3,254.23 1193.18,253.32 1195.07,254.65 1196.95,252.9 1198.83,251.36 1200.72,250.48 1202.6,251.26 1204.5,249.22 1206.4,248.82 1208.3,246.11 1210.28,246.06 1212.25,248.12 1214.22,249.99 1216.2,249.29 1218.1,246.22 1220,242.15 1221.9,236.49 1223.77,241.03 1225.63,241.86 1227.5,247.56 1229.2,247.58 1230.9,243.53 1232.6,243.2 1234.3,242.61 1236,245.27 1237.7,247.17 1239.4,249.63 1241.1,252.35 1243,247.94 1244.9,245.86 1246.8,244.73 1247.9,243 1247.9,196.5 1249.3,194 1249.3,123 1250.9,120 1251.5,89" fill="none" stroke="#111" stroke-width="2.0" stroke-linejoin="round" stroke-linecap="round"/>
<polyline points="802.6,448.8 802.8,300 802.8,259.4 803.7,259.07 805.27,260.14 806.83,263.36 808.4,265.47 809.8,267.14 811.2,271.38 812.77,273.64 814.33,273.85 815.9,273.73 817.45,275.7 819,280.05 820.75,282.45 822.5,286.09 825,279.5 826.55,276.17 828.1,274.94 830.05,278.38 832,280.39 833.83,283.25 835.67,283.23 837.5,286.26 839.53,283.52 841.57,280.47 843.6,276.65 845.63,280.7 847.67,280.98 849.7,285.73 851.27,284.65 852.83,282.49 854.4,280.49 856.02,281.15 857.65,280.12 859.27,283.51 860.9,282.76 862.47,283.87 864.03,284.38 865.6,287.02 867.48,286.02 869.36,286.4 871.24,285.53 873.12,283.57 875,282.69 876.87,283.16 878.73,282.55 880.6,282.37 882.47,283.97 884.33,287.66 886.2,287.82 888.07,285.2 889.93,285.72 891.8,283.42 893.7,284.76 895.6,285.46 897.5,286.3 899.18,288.05 900.86,284.92 902.54,285.47 904.22,284.47 905.9,285.47 907.68,285.83 909.46,287.46 911.24,290.21 913.02,290.01 914.8,292.07 916.58,293.9 918.36,291.44 920.14,291.74 921.92,292.78 923.7,294.53 925.58,293.87 927.45,291.75 929.33,291.34 931.2,290.79 933.17,292.79 935.13,293.02 937.1,296.65 939.02,299.01 940.94,300.4 942.86,300.79 944.78,302.78 946.7,301.69 949,293.93 950.9,295.66 952.8,294.76 954.7,293.23 956.6,294.94 958.5,293.56 960.4,294.06 962.3,292.44 964.15,292.34 966,294 967.85,293.64 969.7,295.55 971.58,296.99 973.45,294.34 975.33,292.81 977.2,293.63 978.92,293.38 980.63,295.95 982.35,294.81 984.07,294.91 985.78,294.58 987.5,297.01 989.38,295.58 991.25,294.25 993.12,293.16 995,293.64 996.78,294.19 998.56,297.2 1000.34,296.48 1002.12,297.27 1003.9,300.09 1005.87,297.23 1007.83,297.96 1009.8,293.72 1012,296.51 1014.2,298.94 1016.08,296.97 1017.95,297.76 1019.83,294.62 1021.7,293.07 1023.48,293.84 1025.26,293.25 1027.04,295.4 1028.82,295.53 1030.6,297.69 1032.38,298.01 1034.16,296.43 1035.94,294.37 1037.72,294.8 1039.5,294.37 1041.28,293.87 1043.06,293.57 1044.84,295.49 1046.62,292.49 1048.4,292.83 1050.37,295.94 1052.33,295.64 1054.3,297.02 1056.03,295.55 1057.77,296.84 1059.5,295.45 1061.23,295.45 1062.97,294.78 1064.7,293.39 1066.4,292.26 1068.1,293.02 1069.8,295.73 1071.5,296.15 1073.2,296.57 1074.9,294.78 1076.6,295.9 1078.32,297.76 1080.03,298.18 1081.75,299.78 1083.47,299.73 1085.18,301.17 1086.9,301.83 1088.78,299.89 1090.66,301.36 1092.54,300.6 1094.42,296.55 1096.3,297.79 1098.18,298.86 1100.07,297.81 1101.95,295.56 1103.83,298.64 1105.72,295.86 1107.6,297.79 1109.48,297.05 1111.37,294.12 1113.25,293.75 1115.13,294.69 1117.02,293.7 1118.9,293.01 1120.78,294.42 1122.67,292.05 1124.55,291.46 1126.43,294.95 1128.32,291.86 1130.2,294.27 1132.1,292.23 1134,294.55 1135.9,294.27 1137.8,294.43 1139.7,293.07 1141.6,293.18 1143.48,290.49 1145.37,291.05 1147.25,288.69 1149.13,289.58 1151.02,288.02 1152.9,285.86 1154.71,285.77 1156.52,283.74 1158.33,283.53 1160.14,285.32 1161.95,284.71 1163.76,285.83 1165.57,284.68 1167.38,282.76 1169.19,283.34 1171,283.94 1172.8,282.78 1174.6,280.04 1176.4,282.12 1178.2,281.18 1180,278.58 1181.7,278.69 1183.4,277.55 1185.1,278.45 1186.8,276.17 1188.5,275.33 1190.2,275.68 1191.9,276.84 1193.6,274.09 1195.3,272.92 1197,274.46 1198.7,275.12 1200.4,273.49 1202.1,272.92 1203.8,274.16 1205.5,273.58 1207.2,271.75 1208.9,272.55 1210.6,268.96 1212.3,268.21 1214,268.22 1215.8,267.3 1217.6,268.43 1219.4,265.94 1221.2,268.27 1223,266.29 1224.82,263.84 1226.64,263.48 1228.46,261.32 1230.28,260.45 1232.1,259.21 1233.97,262.12 1235.83,262.25 1237.7,266.46 1239.4,260.61 1241.1,254.18 1242.8,251.58 1244.5,247.38 1246.75,249.27 1249,253.88 1250.7,257.7 1252.4,258.7 1253.2,350 1253.6,448.8" fill="none" stroke="#f21" stroke-width="2.0" stroke-linejoin="round" stroke-linecap="round"/>
<polyline points="174.2,602.3 174.2,612.75 175.8,625 175.8,769.5 177.3,754.4 179.7,759.4 181.1,763.41 182.5,766.16 183.9,771.61 185.3,776.43 187.2,771.85 189.1,771.16 190.5,768.6 191.9,762.99 193.5,759.54 195.1,752.91 197.5,762.76 199.15,767.49 200.8,774.06 202.4,771.02 204,766.89 205.9,762.44 207.3,763.66 208.7,766.62 211.1,763.63 213.2,764.87 215.3,769.27 217.15,765.5 219,764.85 220.9,763.19 222.8,762.57 224.7,764.67 226.27,760.65 227.83,758.18 229.4,757.31 231.2,761.37 232.9,760.52 234.6,763.32 236.3,762.18 238,763.06 239.7,762.43 241.56,764.67 243.42,764.05 245.28,765.32 247.14,765.34 249,763.95 250.88,763.24 252.76,762.08 254.64,761.54 256.52,760.79 258.4,761.65 259.97,761.64 261.53,758.85 263.1,760.22 264.95,760.37 266.8,761.66 268.7,761.95 270.6,759.63 272.5,758.37 274.18,758.39 275.86,759.06 277.54,756.59 279.22,759.75 280.9,757.3 283.15,756.2 285.4,753.13 286.9,752.42 288.4,755.96 290.25,753.47 292.1,752.58 293.95,748.88 295.8,748.43 298,749.3 300.2,752.47 301.98,749.93 303.76,751.06 305.54,750.81 307.32,749.97 309.1,747.3 310.95,747.7 312.8,749.04 314.65,750.67 316.5,749.91 318.75,750.19 321,748.57 323.2,750.99 325.4,750.62 327.4,750.84 329.4,745.79 331.4,745.1 333.25,746.42 335.1,748.26 336.95,746.9 338.8,748.73 340.53,745.66 342.27,742.12 344,739.87 345.85,740.39 347.7,742.47 349.48,741.9 351.26,744 353.04,745.27 354.82,742.42 356.6,743.23 358.45,745.73 360.3,744.27 362.15,743.99 364,744.17 365.5,742.64 367,740.51 368.78,740.38 370.56,740.7 372.34,739.82 374.12,743.36 375.9,741.71 377.63,742.03 379.37,743.02 381.1,740.22 382.83,742.13 384.57,742.67 386.3,740.96 388.15,742.21 390,740.13 391.85,741.69 393.7,741.86 395.48,743.98 397.26,742.44 399.04,743.45 400.82,745.86 402.6,744.94 404.1,742.86 405.6,737.74 407.05,739.61 408.5,741.79 410.5,739.46 412.5,736.81 414.5,735.48 416.47,735.83 418.43,738.16 420.4,740.72 422.37,742.99 424.33,743.02 426.3,743.8 428.55,739.52 430.8,735.88 433,735.18 435.2,735.96 437.2,738.66 439.2,738.57 441.2,741.16 443.17,740.79 445.13,739.5 447.1,738.01 448.95,737.26 450.8,734.36 452.65,734.11 454.5,731.62 456.5,733.82 458.5,736.8 460.5,738.04 462.2,735.72 463.9,736.74 465.6,733.99 467.5,732.66 469.4,729.18 471.3,729.56 473.17,729.54 475.03,731.98 476.9,732.25 478.86,733.74 480.82,733.43 482.78,734.27 484.74,732.95 486.7,733.98 488.48,734.48 490.25,734.63 492.02,732.74 493.8,733.53 495.9,730.88 498,726.24 499.4,731.61 500.8,734.38 502.67,735.03 504.53,736.24 506.4,736.88 508.15,738.16 509.9,738.17 511.65,736.17 513.4,736.14 515.38,737.95 517.36,739.25 519.34,738.5 521.32,741.95 523.3,742.3 525.05,740.87 526.8,738.06 528.55,736.87 530.3,734.85 532.11,736.49 533.93,738.29 535.74,737.3 537.56,739.28 539.37,741.79 541.19,744.04 543,744.65 544.4,743.92 545.8,741.66 547.9,742.65 550,747.06 552.1,744.36 554.2,743.04 555.98,743.68 557.75,745.74 559.52,746.65 561.3,748.81 562.98,747.25 564.66,748.52 566.34,747.93 568.02,748.48 569.7,747.91 571.1,749.31 572.5,753.21 574.37,749.27 576.23,749.09 578.1,747.52 579.88,747.83 581.65,747.11 583.43,750.04 585.2,749.04 587.07,750.83 588.93,756.21 590.8,758.59 592.67,757.86 594.53,755.72 596.4,755 598.5,757.95 600.6,758.1 602.3,761.35 604,766.71 605.7,770.03 607.4,772.99 609.1,776.95 611.2,775.95 613.3,773.88 614.7,779.35 616.1,782.19 617.5,785.14 618.9,787.9 621,779.8 623.1,771.7 624.55,776.81 626,783.5 627.3,780 627.5,736 628.6,733 628.9,709.5" fill="none" stroke="#111" stroke-width="2.0" stroke-linejoin="round" stroke-linecap="round"/>
<polyline points="169.7,944.8 170.5,900 171.3,850 172.2,820 174.1,797.5 176.4,793.17 178.7,802.74 179.9,796.98 181.1,791.5 182.07,791.2 183.03,796.08 184,796.95 185.07,799.65 186.13,799.19 187.2,801.65 188.14,798.81 189.08,800.05 190.02,798.4 190.96,795.59 191.9,794.76 192.93,797.4 193.95,796.88 194.97,800.43 196,802.51 197.07,802.8 198.15,807.31 199.23,808.67 200.3,810.28 201.23,806.79 202.15,803.5 203.07,804.77 204,801.71 204.94,802.64 205.88,802.65 206.82,804.85 207.76,808.65 208.7,809.35 209.65,810.44 210.6,807.28 211.55,803.99 212.5,804.26 213.43,803.5 214.37,806.41 215.3,806.47 216.23,804.74 217.17,805.53 218.1,805.33 219.03,805.37 219.97,805.09 220.9,799.44 221.83,799.93 222.77,799.99 223.7,798.07 224.64,799.53 225.57,797.83 226.51,802.32 227.45,801.32 228.39,800.06 229.32,803.38 230.26,802.4 231.2,803.49 232.15,802.52 233.1,799.46 234.05,798.41 235,799.01 236.03,799.66 237.07,796.68 238.1,800.67 239.13,797.33 240.17,799.35 241.2,801.72 242.23,801.01 243.27,800.19 244.3,801.05 245.95,801.75 247.6,801.76 249.25,805.85 250.9,804.44 252.77,803.79 254.63,804.02 256.5,802.07 258.2,802.61 259.9,798.64 261.6,799.97 263.3,798.33 265,795.81 266.88,798.88 268.75,799.16 270.62,802.42 272.5,803.47 274.48,803.9 276.46,804.48 278.44,806.06 280.42,805.73 282.4,806.28 284.25,805.66 286.1,801.91 287.95,800.68 289.8,799.06 291.58,797.66 293.36,797.26 295.14,797.76 296.92,799.58 298.7,799.22 300.56,798.44 302.43,799.05 304.29,800.68 306.15,798.17 308.01,798.64 309.88,800.24 311.74,799.19 313.6,798.41 315.8,800.81 318,803.07 320,800.08 322,799.19 324,797.66 325.72,800 327.43,799.26 329.15,801.47 330.87,803.59 332.58,804.42 334.3,803.74 336.55,800.52 338.8,796.17 341,798.63 343.2,801.58 345.45,798.96 347.7,794.75 349.67,793.21 351.63,791.96 353.6,793.44 355.33,792.39 357.07,792.78 358.8,795.93 360.53,794.04 362.27,796.7 364,796.23 365.7,797.78 367.4,797.27 369.1,794.22 370.8,794.49 372.5,797.01 374.2,795.61 375.9,794.9 377.68,797.8 379.46,799.69 381.24,800.31 383.02,802.01 384.8,803.4 386.3,799.65 387.8,795.95 389.58,797.15 391.36,797.38 393.14,796.02 394.92,798.06 396.7,797.39 398.48,797.52 400.26,800.5 402.04,800.89 403.82,803.5 405.6,803.26 407.33,803.96 409.07,802.02 410.8,804.7 412.53,802.13 414.27,804.19 416,804.42 417.78,804.91 419.56,804.4 421.34,802.35 423.12,802.76 424.9,801.97 426.8,800.94 428.7,804.48 430.6,805 432.5,803.96 434.4,805.82 436.3,805.27 438.2,805.82 440.05,806.31 441.9,803.43 443.75,805.53 445.6,804.5 447.38,804.31 449.16,807.84 450.94,805.94 452.72,809.91 454.5,809.52 456.33,811.21 458.17,809.02 460,809.53 461.96,806.19 463.92,805.27 465.88,806.78 467.84,805.02 469.8,803.44 471.57,802.59 473.35,803.97 475.12,805.56 476.9,806.34 478.77,807.97 480.63,806.45 482.5,805.37 484.6,809.02 486.7,811.6 488.8,806.78 490.9,805.09 492.55,803.18 494.2,804.5 495.85,803.97 497.5,803.85 499.15,802.1 500.8,802.86 502.48,804.17 504.16,803.11 505.84,805.59 507.52,804.94 509.2,806.62 510.97,804.24 512.75,804.35 514.52,802.3 516.3,800.95 518.26,799.74 520.22,800.41 522.18,801.1 524.14,798.77 526.1,798.08 527.85,799.06 529.6,800.02 531.35,802.44 533.1,803.76 534.98,802.46 536.87,799.91 538.75,799.22 540.63,798.24 542.52,797.27 544.4,796.17 546.08,799.23 547.76,798.76 549.44,800.3 551.12,801.64 552.8,802.18 554.7,801.93 556.6,799.21 558.5,798.71 560.46,799.9 562.42,796.69 564.38,798.05 566.34,796.88 568.3,796.45 570.05,795.89 571.8,799.03 573.55,797.26 575.3,799.47 577.4,795.26 579.5,794.03 581.2,792.94 582.9,795.19 584.6,796.49 586.3,794.89 588,796.38 589.87,796.65 591.73,793.22 593.6,792.7 595.47,792.44 597.33,791.78 599.2,788.88 600.65,795.18 602.1,799.42 604.2,795.3 606.3,794.11 608.17,790.71 610.03,792.68 611.9,790.32 613.3,794.88 614.7,798.79 616.1,795.84 617.5,791.83 619.6,792.95 621.7,794.2 623.1,819.5 623.8,860 624.5,916.2" fill="none" stroke="#f21" stroke-width="2.0" stroke-linejoin="round" stroke-linecap="round"/>
<polyline points="799.2,652.5 799.6,769 800.8,770 800.8,820.2 802.35,812.77 803.9,806.16 806.1,817.29 807.6,815.96 809.1,817.95 811,819.67 812.9,821.84 814.67,818.66 816.43,813.2 818.2,811.02 820.2,812.82 822.2,816.16 824.2,820.8 826.2,817.81 828.2,811.01 830.2,807.75 831.73,808.06 833.27,808.71 834.8,806.7 836.8,808.23 838.8,812.31 840.8,812.03 842.67,812.57 844.55,809.19 846.42,807.34 848.3,806.82 850.12,807.67 851.94,810.56 853.76,809.33 855.58,811.83 857.4,812.78 859.17,812.14 860.93,812.77 862.7,811.03 864.47,811.01 866.23,811.54 868,812.83 869.88,811.41 871.75,810.08 873.62,810.13 875.5,808.84 877.3,808.02 879.1,809.64 880.9,809.14 882.7,807.34 884.5,808.19 886.32,808.35 888.14,809.77 889.96,809.41 891.78,807.98 893.6,809.51 895.6,806.76 897.6,807.07 899.6,806.92 901.4,805.08 903.2,806.03 905,805.22 906.73,805.26 908.45,804.45 910.17,802.61 911.9,801.67 913.75,801.08 915.6,803 917.45,803.19 919.3,803.5 921.03,802.74 922.77,803.62 924.5,803.5 926.23,801.31 927.97,801.49 929.7,799.85 931.6,801.55 933.5,801.79 935.4,803.46 937.3,803.27 939.2,801.77 941.1,802.56 943,803.61 944.85,800.93 946.7,801.76 948.55,799.95 950.4,799.92 952.18,799.25 953.96,802.25 955.74,800.39 957.52,801.25 959.3,802.46 961.05,803.94 962.81,801.09 964.56,802.42 966.32,802.78 968.07,803.98 969.83,803.75 971.58,803.91 973.34,801.8 975.09,802.3 976.85,802.09 978.6,803.08 980.33,803.76 982.07,800.38 983.8,799.98 985.53,799.7 987.27,799.22 989,799.68 990.7,799.81 992.4,798.42 994.1,797.27 995.8,798.55 997.5,798.16 999.2,798.65 1000.9,798.77 1002.75,799.16 1004.6,798.81 1006.45,799.45 1008.3,799.93 1010.15,797.97 1012,801.29 1013.85,801.13 1015.7,800.87 1017.61,801.79 1019.53,800.64 1021.44,800.98 1023.36,800.23 1025.27,802.45 1027.19,800.71 1029.1,802.05 1030.83,801.18 1032.57,800.65 1034.3,800.92 1036.03,799.52 1037.77,798.97 1039.5,799.96 1041.19,799.28 1042.87,800.54 1044.56,799.63 1046.24,803 1047.93,802.38 1049.61,801.02 1051.3,802.29 1053.08,802.05 1054.86,802.11 1056.64,801.24 1058.42,803.86 1060.2,803.22 1061.98,802.94 1063.76,803.46 1065.54,802.49 1067.32,803.01 1069.1,804.7 1071.01,803.62 1072.93,805.23 1074.84,802.4 1076.76,801.47 1078.67,804.38 1080.59,802.43 1082.5,801.45 1084.27,802.96 1086.03,802 1087.8,804.64 1089.9,805.27 1092,802.96 1093.88,803.09 1095.77,801.41 1097.65,801.67 1099.53,800.83 1101.42,802.9 1103.3,801.84 1105.26,803.5 1107.22,802.59 1109.18,802.9 1111.14,805.72 1113.1,805.91 1114.75,806.22 1116.4,805.7 1118.05,805.4 1119.7,804.76 1121.35,802.57 1123,803.22 1124.75,803.56 1126.5,803.25 1128.25,804.13 1130,806.42 1131.76,805.75 1133.53,807.22 1135.29,808.08 1137.05,806.16 1138.81,807.84 1140.57,807.93 1142.34,807.73 1144.1,805.83 1145.97,805.58 1147.83,806.18 1149.7,806.66 1151.57,807.27 1153.43,809.36 1155.3,810 1157.08,809.68 1158.85,807.33 1160.62,806.9 1162.4,805.68 1164.15,805.38 1165.9,809.03 1167.65,811.5 1169.4,811.96 1171.08,812.8 1172.76,812.12 1174.44,811.34 1176.12,813.84 1177.8,812.89 1179.58,815.06 1181.35,816.55 1183.12,815.35 1184.9,816.48 1187,817.86 1189.1,816.18 1191.2,815.61 1193.3,817.23 1194.98,815.8 1196.66,817.88 1198.34,816.88 1200.02,813.87 1201.7,814.91 1203.47,815.5 1205.25,813.62 1207.03,811.79 1208.8,811.66 1210.55,810.27 1212.3,809.85 1214.05,813.3 1215.8,812.14 1217.55,811.7 1219.3,813.16 1221.05,811.36 1222.8,812.07 1224.95,818.07 1227.1,821.84 1229.2,820.96 1231.3,821.24 1232.7,821.97 1234.1,824.41 1235.73,825.3 1237.37,827.74 1239,829.44 1240.63,829.98 1242.27,826.57 1243.9,825.65 1245.57,827.4 1247.23,829.96 1248.9,829.8 1250.6,825.53 1250.9,812 1250.9,625 1252.1,622 1252.3,592.2" fill="none" stroke="#111" stroke-width="2.0" stroke-linejoin="round" stroke-linecap="round"/>
<polyline points="797.3,944.8 798,895 798.8,944.8 799.6,848 800.6,944.8 801.6,848 802.6,944.8 803.5,849 804.4,944 805,870 806.1,850.3 807.6,847.82 809.1,847.88 811,848.95 812.9,853.56 815.2,845.28 817.45,843.74 819.7,844.13 821.2,844.35 822.7,847.48 825,854.95 827.2,866.84 828.73,863.38 830.27,858.79 831.8,856.82 834.05,854.92 836.3,856.07 838.55,856.52 840.8,859.81 842.4,857.22 844,855.51 846.15,852.21 848.3,849.81 850.33,848.93 852.37,851.07 854.4,848.25 856.27,848.68 858.15,847.26 860.02,847.73 861.9,846.4 863.93,847.52 865.97,847.06 868,847.49 870,850.01 872,850.13 874,850.65 876,847.77 878,849.17 880,845.79 882.03,845.2 884.07,848.41 886.1,847.4 888.35,845.47 890.6,842.48 892.48,841.05 894.35,841.13 896.23,842.84 898.1,840.84 899.82,843.27 901.54,841.89 903.26,845.04 904.98,846.11 906.7,846.97 908.38,845.59 910.05,842.31 911.73,839.16 913.4,837.76 915.6,840.55 917.8,842.7 919.3,863.5 920.8,842.7 923,839.04 925.2,834.76 926.9,836.44 928.6,834.7 930.3,835.08 932,833.03 933.7,832.81 935.4,831.66 937.1,832.9 938.83,832.26 940.57,832.82 942.3,832.66 944.03,834.3 945.77,834.51 947.5,832.69 949.28,831.83 951.06,830.1 952.84,830.99 954.62,831.21 956.4,828.22 958.6,830.66 960.8,830.55 962.8,828.81 964.8,831.28 966.8,829.9 968.65,827.61 970.5,827.27 972.35,825.23 974.2,824.79 976.05,825.46 977.9,826.1 979.75,827.47 981.6,827.63 983.45,826.24 985.3,826.01 987.15,825.88 989,827.13 990.5,831.42 992.35,831.41 994.2,829.02 996.05,828.45 997.9,827 999.4,827.43 1000.9,830.99 1002.4,826.21 1003.9,823.26 1005.68,823.07 1007.46,823.08 1009.24,821.07 1011.02,822.67 1012.8,819.77 1014.77,821.14 1016.73,818.42 1018.7,819.47 1020.2,821.37 1021.7,827.69 1023.67,825.07 1025.63,822.93 1027.6,818.3 1029.57,817.77 1031.53,821.36 1033.5,820.33 1035,816.7 1036.5,816.13 1038,818.59 1039.5,821.17 1041.47,819.96 1043.43,819.84 1045.4,821.3 1047.25,822.88 1049.1,823.56 1050.95,826.53 1052.8,828.88 1055.05,824.93 1057.3,819.66 1059.27,821.05 1061.23,822.67 1063.2,824.55 1065.45,820.86 1067.7,818.93 1069.42,817.46 1071.13,819.54 1072.85,819.35 1074.57,818.87 1076.28,816.61 1078,818.03 1079.88,818.71 1081.75,818.24 1083.62,822.13 1085.5,821.52 1087.47,820.76 1089.45,821.04 1091.43,818.77 1093.4,819.06 1095.18,820.37 1096.95,822.03 1098.72,822.56 1100.5,822.28 1102.46,822.61 1104.42,822.97 1106.38,821.68 1108.34,821.64 1110.3,820.01 1112.18,818.29 1114.07,818.43 1115.95,819.22 1117.83,820.65 1119.72,818.35 1121.6,819.44 1122.53,821.78 1123.47,821.58 1124.4,823.5 1125.33,826.49 1126.27,827.06 1127.2,826.76 1128.13,827.36 1129.07,822.84 1130,822.28 1130.93,823.7 1131.87,821.77 1132.8,818.38 1133.73,820.96 1134.67,825.78 1135.6,829.08 1136.53,827.28 1137.47,826.39 1138.4,822.58 1139.46,824.35 1140.53,823.93 1141.59,823.38 1142.65,824.3 1143.71,825.21 1144.78,826.01 1145.84,828.11 1146.9,826.71 1147.87,824.71 1148.84,827.57 1149.81,825.03 1150.78,825.42 1151.75,823.65 1152.72,826.74 1153.68,823.75 1154.65,823.52 1155.62,825.65 1156.59,823.89 1157.56,822.48 1158.53,825.09 1159.5,822.75 1160.49,822.58 1161.48,825.83 1162.47,825.34 1163.46,825.49 1164.45,823.45 1165.44,826.5 1166.43,825.81 1167.42,827.28 1168.41,825.42 1169.4,826.87 1170.33,830.38 1171.27,831 1172.2,834.36 1173.13,833.11 1174.07,831.8 1175,827.81 1176,827.97 1177,824.36 1178,826.13 1179,825.99 1180,822.62 1181,823.92 1182,824.22 1182.9,828.72 1183.8,831.99 1184.7,831.17 1185.6,836.48 1186.47,835.93 1187.35,832.78 1188.22,829.06 1189.1,827.03 1190.03,830.05 1190.97,829.99 1191.9,829.24 1192.83,828.09 1193.77,830.54 1194.7,829.73 1195.63,833.81 1196.57,836.75 1197.5,839.5 1198.43,837.76 1199.37,836.98 1200.3,835.77 1201.23,835.63 1202.17,832.61 1203.1,833.77 1204.17,836.2 1205.25,838.82 1206.33,842.8 1207.4,847.5 1208.33,841.87 1209.27,836.23 1210.2,830.6 1211.13,831.72 1212.07,833.57 1213,836.9 1213.93,835.28 1214.87,837.52 1215.8,840.15 1216.73,837.88 1217.67,839.56 1218.6,835.42 1219.53,834.08 1220.47,835.43 1221.4,834.5 1222.45,836.21 1223.5,835.49 1224.55,834.92 1225.6,836.3 1226.57,841.43 1227.53,846.57 1228.5,851.7 1229.55,851.08 1230.6,847.93 1231.65,844.25 1232.7,842.01 1233.75,843.64 1234.8,843.59 1235.85,842.92 1236.9,839.88 1237.83,838.5 1238.77,837.72 1239.7,836.44 1240.75,840.18 1241.8,838.74 1242.85,844.63 1243.9,844.84 1244.78,845.6 1245.65,844.99 1246.53,847.32 1247.4,846.1 1248,890 1248.2,944.8" fill="none" stroke="#f21" stroke-width="2.0" stroke-linejoin="round" stroke-linecap="round"/>
<path d="M123.95 353.96h4.16v4.19h-4.16zM129.97 353.96h4v4.19h-4zM222.61 469.21h4.16v4.19h-4.16zM228.63 469.21h4v4.19h-4zM256.77 469.21h4.16v4.19h-4.16zM262.79 469.21h4v4.19h-4zM750.55 353.96h4.16v4.19h-4.16zM756.57 353.96h4v4.19h-4zM849.16 469.21h4.16v4.19h-4.16zM855.18 469.21h4v4.19h-4zM883.29 469.21h4.16v4.19h-4.16zM889.31 469.21h4v4.19h-4zM123.95 850.03h4.16v4.19h-4.16zM129.97 850.03h4v4.19h-4zM222.61 965.21h4.16v4.19h-4.16zM228.63 965.21h4v4.19h-4zM256.77 965.21h4.16v4.19h-4.16zM262.79 965.21h4v4.19h-4zM750.55 850.03h4.16v4.19h-4.16zM756.57 850.03h4v4.19h-4zM849.19 965.21h4.16v4.19h-4.16zM855.21 965.21h4v4.19h-4zM883.33 965.21h4.16v4.19h-4.16zM889.35 965.21h4v4.19h-4zM271.83 596.97h5.65v4.83h-5.65zM280.09 596.97h5.42v4.83h-5.42zM916.47 605.97h5.65v4.83h-5.65zM924.74 605.97h5.42v4.83h-5.42zM303.45 367.22h7.4v5.58h-7.4zM314.35 367.22h7.1v5.58h-7.1zM303.55 858.62h7.4v5.58h-7.4zM314.45 858.62h7.1v5.58h-7.1z" fill="#fff"/>
</svg></body></html>
